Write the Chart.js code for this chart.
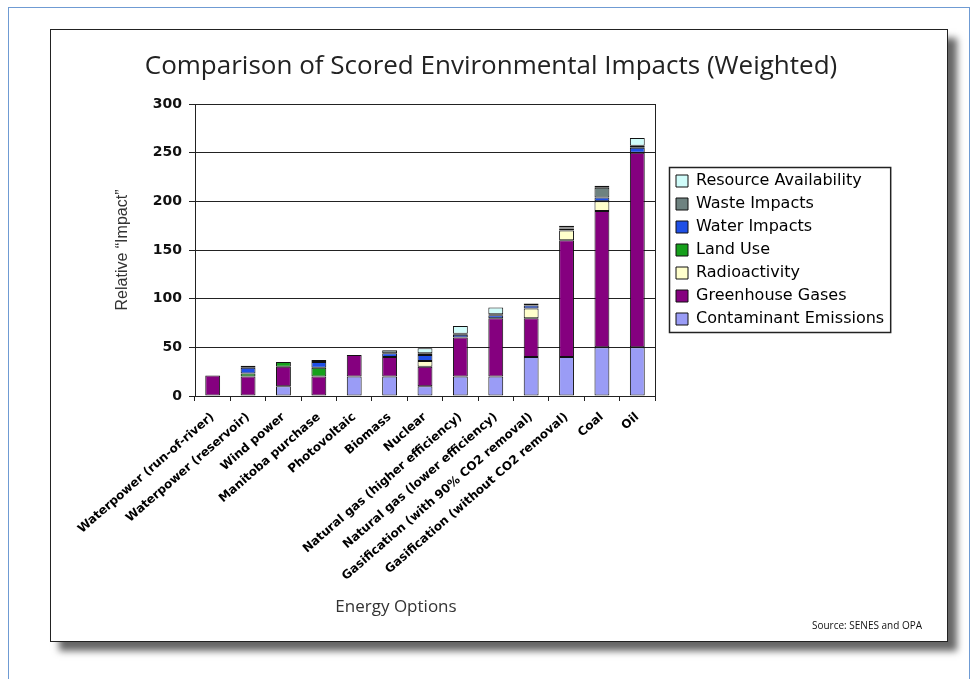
<!DOCTYPE html>
<html><head><meta charset="utf-8">
<script src="https://cdn.jsdelivr.net/npm/chart.js@4.4.1/dist/chart.umd.min.js"></script>
<style>
html,body{margin:0;padding:0;background:#fff;width:976px;height:679px;overflow:hidden;}
#frame{position:absolute;left:8px;top:7px;width:962px;height:700px;border:1.5px solid #6f9bd3;box-sizing:border-box}
#card{position:absolute;left:50px;top:29px;width:898px;height:613px;border:1.5px solid #222;box-sizing:border-box;background:#fff;box-shadow:9px 9px 7px rgba(0,0,0,0.6)}
#c{position:absolute;left:0;top:0}
</style></head>
<body>
<div id="frame"></div><div id="card"></div>
<canvas id="c" width="976" height="679" style="width:976px;height:679px"></canvas>
<script>
// ---- data ----
const categories = [
  'Waterpower (run-of-river)', 'Waterpower (reservoir)', 'Wind power', 'Manitoba purchase',
  'Photovoltaic', 'Biomass', 'Nuclear', 'Natural gas (higher efficiency)',
  'Natural gas (lower efficiency)', 'Gasification (with 90% CO2 removal)',
  'Gasification (without CO2 removal)', 'Coal', 'Oil'
];
const contaminantEmissions = [0, 0, 10, 0, 20, 20, 10, 20, 20, 40, 40, 50, 50];
const greenhouseGases      = [21, 20, 20, 20, 22, 20, 20, 40, 60, 40, 120, 140, 200];
const radioactivity        = [0, 0, 0, 0, 0, 0, 6, 0, 0, 10, 10, 10, 0];
const landUse              = [0, 3, 5, 9, 0, 0, 0, 0, 0, 0, 0, 0, 0];
const waterImpacts         = [0, 6, 0, 6, 0, 4, 6, 3, 3, 3, 2, 4, 5];
const wasteImpacts         = [0, 2, 0, 2, 0, 3, 2, 1, 1, 2, 1, 10, 2];
const resourceAvailability = [0, 0, 0, 0, 0, 0, 5, 8, 7, 0, 2, 2, 8];
const yTicks = [0, 50, 100, 150, 200, 250, 300];
const titleText = 'Comparison of Scored Environmental Impacts (Weighted)';
const xTitleText = 'Energy Options';
const yTitleText = 'Relative \u201CImpact\u201D';
const sourceText = 'Source: SENES and OPA';

// ---- chart ----
function ds(label, data, color) {
  return { label, data, backgroundColor: color, borderColor: '#111', borderWidth: 1,
           borderSkipped: false, barPercentage: 0.42, categoryPercentage: 1 };
}
const datasets = [
  ds('Contaminant Emissions', contaminantEmissions, '#9a9cf6'),
  ds('Greenhouse Gases', greenhouseGases, '#85007f'),
  ds('Radioactivity', radioactivity, '#ffffcc'),
  ds('Land Use', landUse, '#16a01c'),
  ds('Water Impacts', waterImpacts, '#1f4fe6'),
  ds('Waste Impacts', wasteImpacts, '#6e8280'),
  ds('Resource Availability', resourceAvailability, '#d0fcfa')
];

const PLOT_RIGHT = 655, GAP = 14;

const decor = {
  id: 'decor',
  afterDraw(chart) {
    const ctx = chart.ctx;
    const hb = chart.legend.legendHitBoxes || [];
    if (hb.length) {
      let x0 = Infinity, y0 = Infinity, x1 = -Infinity, y1 = -Infinity;
      hb.forEach(b => { x0 = Math.min(x0, b.left); y0 = Math.min(y0, b.top);
        x1 = Math.max(x1, b.left + b.width); y1 = Math.max(y1, b.top + b.height); });
      ctx.save();
      ctx.strokeStyle = '#222'; ctx.lineWidth = 1.5;
      ctx.strokeRect(x0 - 6.5, y0 - 5.5, (x1 - x0) + 13, (y1 - y0) + 11);
      ctx.restore();
    }
    ctx.save();
    ctx.textAlign = 'center'; ctx.textBaseline = 'middle';
    ctx.fillStyle = '#222';
    ctx.font = '26px "Open Sans"';
    ctx.fillText(titleText, 491, 67);
    ctx.fillStyle = '#333';
    ctx.font = '17px "Open Sans"';
    ctx.fillText(xTitleText, 396, 607);
    ctx.fillStyle = '#111';
    ctx.font = '10px "Open Sans"';
    ctx.fillText(sourceText, 867, 626);
    ctx.restore();
  }
};

const chart = new Chart(document.getElementById('c'), {
  type: 'bar',
  data: { labels: categories, datasets },
  plugins: [decor],
  options: {
    responsive: false, animation: false, devicePixelRatio: 1,
    layout: { padding: { left: 109, top: 104, bottom: 83, right: 0 } },
    plugins: {
      title: { display: false },
      tooltip: { enabled: false },
      legend: {
        position: 'right', align: 'center', fullSize: false, reverse: true, maxWidth: 320,
        labels: { boxWidth: 12, boxHeight: 12, padding: 7, color: '#000',
                  font: { family: '"DejaVu Sans"', size: 16 } }
      }
    },
    scales: {
      x: {
        stacked: true,
        grid: { display: true, drawOnChartArea: false, drawTicks: true, tickLength: 5, color: '#222', offset: true },
        border: { display: true, color: '#222', width: 1 },
        ticks: { autoSkip: false, minRotation: 41, maxRotation: 41, padding: 9, color: '#000',
                 font: { family: '"DejaVu Sans"', size: 12, weight: 'bold' } },
        afterFit(s) { s.height = 200; }
      },
      y: {
        stacked: true, min: 0, max: 300,
        afterBuildTicks(s) { s.ticks = yTicks.map(v => ({ value: v })); },
        grid: { color: '#222', lineWidth: 1, tickLength: 6, drawTicks: true },
        border: { display: true, color: '#222', width: 1 },
        ticks: { padding: 7, color: '#111', font: { family: '"DejaVu Sans"', size: 14, weight: 'bold' } },
        title: { display: true, text: yTitleText, color: '#333', padding: { top: 4, bottom: 4 },
                 font: { family: '"Liberation Sans"', size: 16 } },
        afterFit(s) { s.width = 86; }
      },
      y2: {
        type: 'linear', position: 'right', display: true,
        grid: { display: false, drawTicks: false },
        ticks: { display: false },
        border: { display: true, color: '#222', width: 1 },
        afterFit(s) { s.width = GAP; }
      }
    }
  }
});
// fit right padding so the plot area ends where the reference's does
chart.options.layout.padding.right = Math.max(0, 976 - PLOT_RIGHT - GAP - chart.legend.width);
chart.update();
</script>
</body></html>
